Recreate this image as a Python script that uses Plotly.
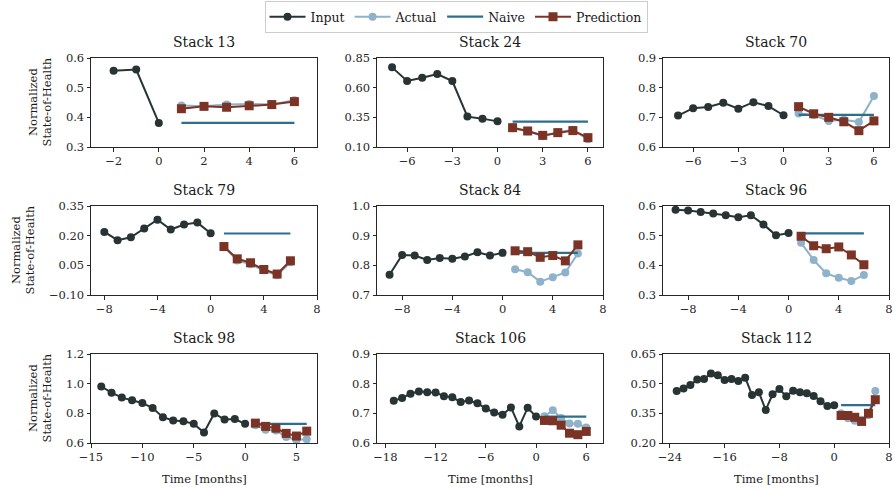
import plotly.graph_objects as go

W, H = 895, 490

# ---------------- data ----------------
stack_names = ["Stack 13", "Stack 24", "Stack 70",
               "Stack 79", "Stack 84", "Stack 96",
               "Stack 98", "Stack 106", "Stack 112"]

s13_input = [0.557, 0.561, 0.381]
s13_actual = [0.440, 0.437, 0.443, 0.445, 0.443, 0.458]
s13_pred = [0.429, 0.437, 0.434, 0.439, 0.443, 0.453]
s13_naive = 0.381

s24_input = [0.771, 0.656, 0.684, 0.715, 0.656, 0.356, 0.339, 0.316]
s24_actual = [0.258, 0.232, 0.190, 0.225, 0.245, 0.165]
s24_pred = [0.263, 0.235, 0.198, 0.221, 0.238, 0.179]
s24_naive = 0.313

s70_input = [0.706, 0.731, 0.735, 0.749, 0.729, 0.751, 0.738, 0.707]
s70_actual = [0.713, 0.708, 0.688, 0.692, 0.684, 0.772]
s70_pred = [0.736, 0.712, 0.700, 0.685, 0.655, 0.688]
s70_naive = 0.708

s79_input = [0.219, 0.177, 0.192, 0.236, 0.281, 0.231, 0.256, 0.266, 0.212]
s79_actual = [0.142, 0.075, 0.055, 0.025, 0.000, 0.065]
s79_pred = [0.145, 0.083, 0.063, 0.029, 0.006, 0.073]
s79_naive = 0.211

s84_input = [0.768, 0.835, 0.833, 0.818, 0.825, 0.822, 0.830, 0.844, 0.833, 0.842]
s84_actual = [0.787, 0.777, 0.745, 0.760, 0.776, 0.840]
s84_pred = [0.849, 0.846, 0.827, 0.833, 0.815, 0.869]
s84_naive = 0.842

s96_input = [0.587, 0.585, 0.580, 0.575, 0.569, 0.562, 0.569, 0.538, 0.501, 0.509]
s96_actual = [0.476, 0.418, 0.373, 0.358, 0.347, 0.367]
s96_pred = [0.498, 0.466, 0.456, 0.462, 0.435, 0.402]
s96_naive = 0.508

s98_input = [0.981, 0.939, 0.906, 0.888, 0.870, 0.836, 0.774, 0.752, 0.747,
             0.729, 0.671, 0.799, 0.758, 0.761, 0.729]
s98_actual = [0.720, 0.690, 0.685, 0.640, 0.620, 0.625]
s98_pred = [0.734, 0.712, 0.700, 0.665, 0.647, 0.680]
s98_naive = 0.729

s106_input = [0.742, 0.752, 0.766, 0.774, 0.771, 0.770, 0.758, 0.754, 0.738,
              0.743, 0.734, 0.716, 0.703, 0.695, 0.720, 0.656, 0.719, 0.689]
s106_actual = [0.690, 0.710, 0.684, 0.666, 0.665, 0.652]
s106_pred = [0.676, 0.675, 0.660, 0.633, 0.628, 0.639]
s106_naive = 0.689

s112_input = [0.463, 0.476, 0.493, 0.521, 0.523, 0.551, 0.543, 0.518, 0.523,
              0.513, 0.530, 0.443, 0.456, 0.367, 0.446, 0.473, 0.436, 0.464,
              0.456, 0.451, 0.438, 0.411, 0.387, 0.391]
s112_actual = [0.350, 0.325, 0.312, 0.317, 0.340, 0.463]
s112_pred = [0.339, 0.339, 0.330, 0.309, 0.350, 0.419]
s112_naive = 0.391

future_months = [1, 2, 3, 4, 5, 6]

inputs = [s13_input, s24_input, s70_input, s79_input, s84_input, s96_input,
          s98_input, s106_input, s112_input]
actuals = [s13_actual, s24_actual, s70_actual, s79_actual, s84_actual,
           s96_actual, s98_actual, s106_actual, s112_actual]
preds = [s13_pred, s24_pred, s70_pred, s79_pred, s84_pred, s96_pred,
         s98_pred, s106_pred, s112_pred]
naives = [s13_naive, s24_naive, s70_naive, s79_naive, s84_naive, s96_naive,
          s98_naive, s106_naive, s112_naive]

x_ranges = [(-3, 7), (-8, 7), (-8, 7), (-9, 8), (-10, 8), (-10, 8),
            (-15, 7), (-19, 8), (-25, 8)]
x_ticks = [[-2, 0, 2, 4, 6], [-6, -3, 0, 3, 6], [-6, -3, 0, 3, 6],
           [-8, -4, 0, 4, 8], [-8, -4, 0, 4, 8], [-8, -4, 0, 4, 8],
           [-15, -10, -5, 0, 5], [-18, -12, -6, 0, 6], [-24, -16, -8, 0, 8]]
y_ranges = [(0.3, 0.6), (0.10, 0.85), (0.6, 0.9), (-0.10, 0.35), (0.7, 1.0),
            (0.3, 0.6), (0.6, 1.2), (0.6, 0.9), (0.20, 0.65)]
y_ticks = [[0.3, 0.4, 0.5, 0.6], [0.10, 0.35, 0.60, 0.85], [0.6, 0.7, 0.8, 0.9],
           [-0.10, 0.05, 0.20, 0.35], [0.7, 0.8, 0.9, 1.0], [0.3, 0.4, 0.5, 0.6],
           [0.6, 0.8, 1.0, 1.2], [0.6, 0.7, 0.8, 0.9], [0.20, 0.35, 0.50, 0.65]]
y_fmt = [".1f", ".2f", ".1f", ".2f", ".1f", ".1f", ".1f", ".1f", ".2f"]

# ---------------- style ----------------
C_INPUT = "#283434"
C_ACTUAL = "#8fb2cb"
C_NAIVE = "#2b6e8e"
C_PRED = "#7b3326"
FONT = "DejaVu Serif, Liberation Serif, serif"

col_px = [(91, 317), (377, 603), (663, 889)]
row_px = [(58, 147), (206, 295), (354, 443)]
ylabel_x = [40, 23, 40]

fig = go.Figure()
annotations = []

for i in range(9):
    r, c = divmod(i, 3)
    ax = "" if i == 0 else str(i + 1)
    xref, yref = "x" + ax, "y" + ax
    inp = inputs[i]
    n = len(inp)
    t_in = list(range(-(n - 1), 1))
    show = i == 0
    fig.add_trace(go.Scatter(x=t_in, y=inp, mode="lines+markers", name="Input",
                             line=dict(color=C_INPUT, width=2),
                             marker=dict(color=C_INPUT, size=8, symbol="circle"),
                             showlegend=show, legendgroup="in",
                             xaxis=xref, yaxis=yref))
    fig.add_trace(go.Scatter(x=future_months, y=actuals[i], mode="lines+markers",
                             name="Actual",
                             line=dict(color=C_ACTUAL, width=2),
                             marker=dict(color=C_ACTUAL, size=8, symbol="circle"),
                             showlegend=show, legendgroup="ac",
                             xaxis=xref, yaxis=yref))
    fig.add_trace(go.Scatter(x=future_months, y=[naives[i]] * len(future_months),
                             mode="lines", name="Naive",
                             line=dict(color=C_NAIVE, width=2.2),
                             showlegend=show, legendgroup="na",
                             xaxis=xref, yaxis=yref))
    fig.add_trace(go.Scatter(x=future_months, y=preds[i], mode="lines+markers",
                             name="Prediction",
                             line=dict(color=C_PRED, width=2),
                             marker=dict(color=C_PRED, size=9, symbol="square"),
                             showlegend=show, legendgroup="pr",
                             xaxis=xref, yaxis=yref))

    x0, x1 = col_px[c]
    y0, y1 = row_px[r]
    common = dict(showline=True, mirror=True, linecolor="#262626", linewidth=1,
                  ticks="outside", ticklen=3.5, tickwidth=1, tickcolor="#262626",
                  showgrid=False, zeroline=False,
                  tickfont=dict(family=FONT, size=11.5, color="#262626"))
    fig.update_layout(**{
        "xaxis" + ax: dict(domain=[x0 / W, x1 / W], range=list(x_ranges[i]),
                           tickvals=x_ticks[i], anchor=yref,
                           ticktext=[(str(v) if v >= 0 else "\u2212" + str(-v)) for v in x_ticks[i]],
                           **common),
        "yaxis" + ax: dict(domain=[1 - y1 / H, 1 - y0 / H], range=list(y_ranges[i]),
                           tickvals=y_ticks[i], anchor=xref,
                           ticktext=[(format(v, y_fmt[i]) if v >= 0 else "\u2212" + format(-v, y_fmt[i])) for v in y_ticks[i]],
                           **common),
    })
    annotations.append(dict(text=stack_names[i], x=(x0 + x1) / 2 / W, y=1 - (y0 - 16) / H,
                            xref="paper", yref="paper", xanchor="center", yanchor="middle",
                            showarrow=False, font=dict(family=FONT, size=14, color="#1a1a1a")))
    if c == 0:
        annotations.append(dict(text="Normalized<br>State-of-Health", x=ylabel_x[r] / W,
                                y=1 - (y0 + y1) / 2 / H, xref="paper", yref="paper",
                                xanchor="center", yanchor="middle", textangle=-90,
                                showarrow=False,
                                font=dict(family=FONT, size=11.5, color="#1a1a1a")))
    if r == 2:
        annotations.append(dict(text="Time [months]", x=(x0 + x1) / 2 / W, y=1 - 479 / H,
                                xref="paper", yref="paper", xanchor="center", yanchor="middle",
                                showarrow=False,
                                font=dict(family=FONT, size=11.5, color="#1a1a1a")))

fig.update_layout(
    width=W, height=H,
    margin=dict(l=0, r=0, t=0, b=0, pad=0, autoexpand=False),
    paper_bgcolor="white", plot_bgcolor="white",
    font=dict(family=FONT, size=11.5, color="#1a1a1a"),
    annotations=annotations,
    legend=dict(orientation="h", x=456 / W, xanchor="center", y=1 - 1 / H, yanchor="top",
                bordercolor="#cccccc", borderwidth=1, bgcolor="white",
                font=dict(family=FONT, size=12.5, color="#1a1a1a"),
                itemwidth=36, tracegroupgap=0),
)

fig.write_html("out.html")
